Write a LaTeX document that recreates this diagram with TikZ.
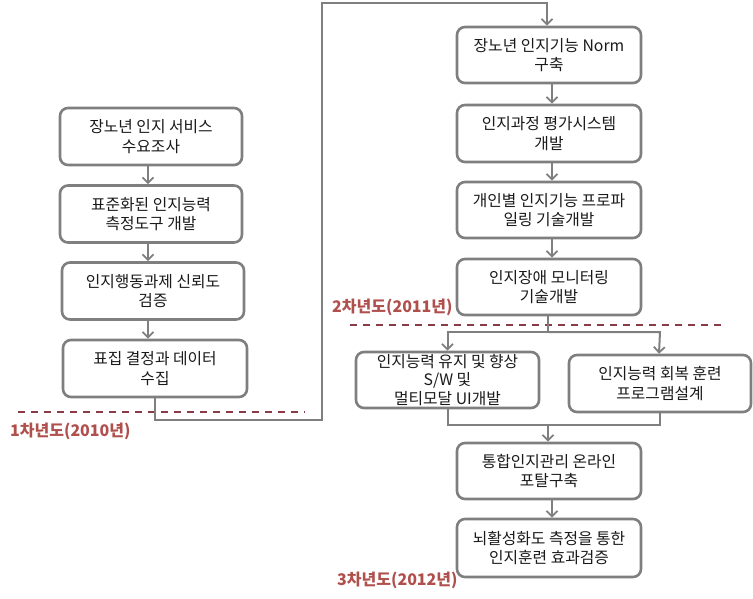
\documentclass[tikz,border=0pt]{standalone}
\usepackage{fontspec}
\setmainfont{Noto Sans CJK KR}
\usetikzlibrary{arrows.meta,calc}
\definecolor{boxgray}{HTML}{7F7F7F}
\definecolor{txt}{HTML}{1A1A1A}
\definecolor{dashred}{HTML}{8B3A48}
\definecolor{yearred}{HTML}{B0504D}
\tikzset{
  stepbox/.style={draw=boxgray, line width=2.6pt, rounded corners=8pt, fill=white,
    text=txt, align=center, inner sep=0pt, font=\fontsize{15.8}{19.5}\selectfont},
  conn/.style={draw=boxgray, line width=2pt},
  arr/.style={conn, -{Straight Barb[length=5.5pt,width=11pt,line width=1.8pt]}},
  yeardash/.style={draw=dashred, line width=2pt, dash pattern=on 7pt off 6pt},
  yearlbl/.style={text=yearred, font=\bfseries\fontsize{16}{18}\selectfont, anchor=west, inner sep=0pt},
}
\begin{document}
\begin{tikzpicture}[x=1pt,y=-1pt]
\useasboundingbox (0,0) rectangle (753,598);
% left column
\node[stepbox, minimum width=182pt, minimum height=57pt] (L1) at (151,136.5) {장노년 인지 서비스\\수요조사};
\node[stepbox, minimum width=182pt, minimum height=57pt] (L2) at (151,214) {표준화된 인지능력\\측정도구 개발};
\node[stepbox, minimum width=182pt, minimum height=57pt] (L3) at (153,291) {인지행동과제 신뢰도\\검증};
\node[stepbox, minimum width=184pt, minimum height=57pt] (L4) at (155,368.5) {표집 결정과 데이터\\수집};
% right column
\node[stepbox, minimum width=184pt, minimum height=56pt] (R1) at (549,55) {장노년 인지기능 Norm\\구축};
\node[stepbox, minimum width=184pt, minimum height=57pt] (R2) at (549,133.5) {인지과정 평가시스템\\개발};
\node[stepbox, minimum width=184pt, minimum height=56pt] (R3) at (549,210) {개인별 인지기능 프로파\\일링 기술개발};
\node[stepbox, minimum width=184pt, minimum height=56pt] (R4) at (549,287) {인지장애 모니터링\\기술개발};
\node[stepbox, minimum width=183pt, minimum height=56pt, font=\fontsize{15.8}{18.3}\selectfont] (M1) at (447.5,380) {인지능력 유지 및 향상\\S/W 및\\멀티모달 UI개발};
\node[stepbox, minimum width=182pt, minimum height=57pt] (M2) at (660,383.5) {인지능력 회복 훈련\\프로그램설계};
\node[stepbox, minimum width=184pt, minimum height=56pt] (R5) at (549,471) {통합인지관리 온라인\\포탈구축};
\node[stepbox, minimum width=184pt, minimum height=58pt] (R6) at (549,548) {뇌활성화도 측정을 통한\\인지훈련 효과검증};
% dashed year separators and labels
\coordinate (d1a) at (18,412); \coordinate (d1b) at (305,412);
\coordinate (d2a) at (350,325); \coordinate (d2b) at (722,325);
\draw[yeardash] (d1a) -- (d1b);
\draw[yeardash] (d2a) -- (d2b);
\node[yearlbl] (Y1) at (10,431) {1차년도(2010년)};
\node[yearlbl] (Y2) at (332,307) {2차년도(2011년)};
\node[yearlbl] (Y3) at (337,580) {3차년도(2012년)};
% left arrows
\draw[arr] ($(L1.south)+(-3,0)$) -- ($(L2.north)+(-3,0)$);
\draw[arr] ($(L2.south)+(-3,0)$) -- ($(L3.north)+(-5,0)$);
\draw[arr] ($(L3.south)+(-5,0)$) -- ($(L4.north)+(-7,0)$);
% long connector
\coordinate (c1) at (155,420);
\coordinate (c2) at (322,420);
\coordinate (c3) at (322,3);
\coordinate (c4) at (547,3);
\draw[arr] (L4.south) -- (c1) -- (c2) -- (c3) -- (c4) -- (c4 |- R1.north);
% right arrows
\draw[arr] ($(R1.south)+(3,0)$) -- ($(R2.north)+(3,0)$);
\draw[arr] ($(R2.south)+(3,0)$) -- ($(R3.north)+(3,0)$);
\draw[arr] ($(R3.south)+(3,0)$) -- ($(R4.north)+(3,0)$);
% split
\coordinate (s0) at (548,332);
\draw[conn] ($(R4.south)+(-1,0)$) -- (s0);
\draw[arr] (s0) -- (M1.north |- s0) -- (M1.north);
\draw[arr] (s0) -- (M2.north |- s0) -- ($(M2.north)+(-1,0)$);
% merge
\coordinate (m0) at (548,425);
\draw[conn] (M1.south) -- (M1.south |- m0) -- (M2.south |- m0) -- (M2.south);
\draw[arr] (m0) -- (R5.north -| m0);
\draw[arr] ($(R5.south)+(3,0)$) -- ($(R6.north)+(3,0)$);
\end{tikzpicture}
\end{document}
